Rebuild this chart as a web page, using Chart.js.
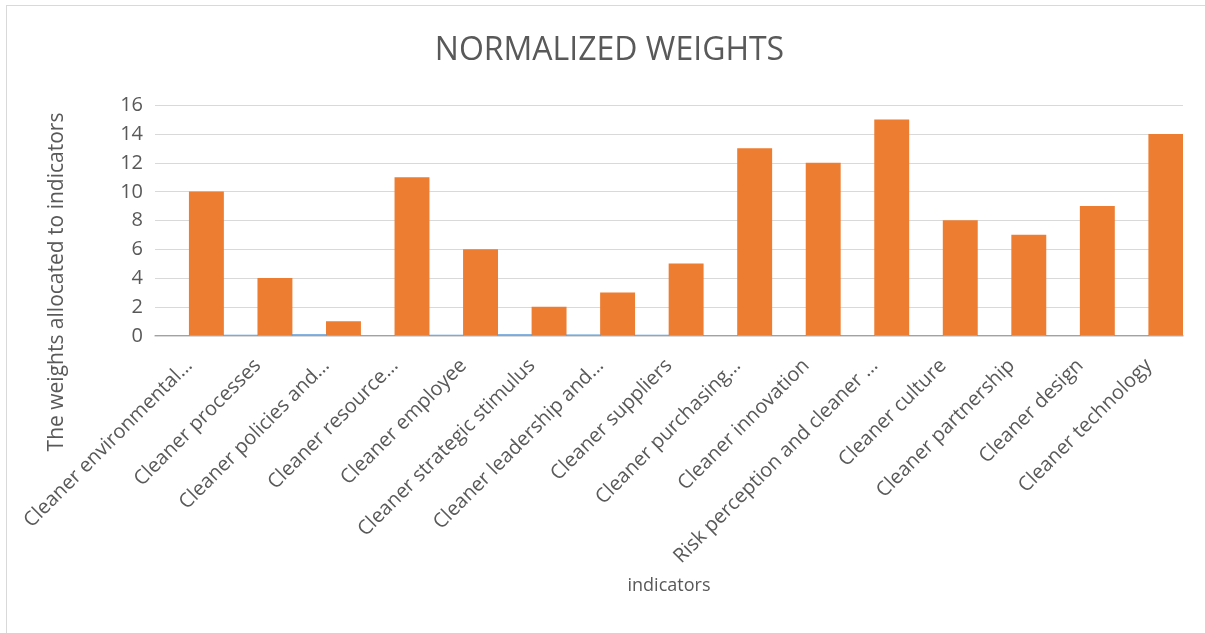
<!DOCTYPE html>
<html>
<head>
<meta charset="utf-8">
<script src="https://cdn.jsdelivr.net/npm/chart.js@4"></script>
<style>
  html, body { margin: 0; padding: 0; background: #fff; }
  #wrap { position: absolute; left: 0; top: 0; width: 1205px; height: 633px; }
  #frame { position: absolute; left: 6px; top: 5px; width: 1210px; height: 640px; border-left: 1px solid #d9d9d9; border-top: 1px solid #d9d9d9; }
  canvas { position: absolute; left: 0; top: 0; }
</style>
</head>
<body>
<div id="wrap">
  <div id="frame"></div>
  <canvas id="c" width="1205" height="633"></canvas>
</div>
<script>
const categories = [
  "Cleaner environmental…",
  "Cleaner processes",
  "Cleaner policies and…",
  "Cleaner resource…",
  "Cleaner employee",
  "Cleaner strategic stimulus",
  "Cleaner leadership and…",
  "Cleaner suppliers",
  "Cleaner purchasing…",
  "Cleaner innovation",
  "Risk perception and cleaner …",
  "Cleaner culture",
  "Cleaner partnership",
  "Cleaner design",
  "Cleaner technology"
];
const normalizedValues = [0.03, 0.07, 0.10, 0.03, 0.06, 0.10, 0.08, 0.06, 0.03, 0.03, 0.02, 0.05, 0.05, 0.05, 0.02];
const weightValues = [10, 4, 1, 11, 6, 2, 3, 5, 13, 12, 15, 8, 7, 9, 14];
const yTicks = [0, 2, 4, 6, 8, 10, 12, 14, 16];

const chartTitle = "NORMALIZED WEIGHTS";
const yTitle = "The weights allocated to indicators";
const xTitle = "indicators";

const FONT = "'Open Sans', 'Liberation Sans', sans-serif";
const TXT = "#595959";

const yTitlePlugin = {
  id: 'yTitle',
  afterDraw(chart) {
    const ctx = chart.ctx;
    ctx.save();
    ctx.translate(57, 282);
    ctx.rotate(-Math.PI / 2);
    ctx.font = "21px " + FONT;
    ctx.fillStyle = TXT;
    ctx.textAlign = "center";
    ctx.textBaseline = "middle";
    ctx.fillText(yTitle, 0, 0);
    ctx.restore();
  }
};

new Chart(document.getElementById('c'), {
  type: 'bar',
  data: {
    labels: categories,
    datasets: [
      { label: 'Normalized', data: normalizedValues, backgroundColor: '#5B9BD5', barPercentage: 1, categoryPercentage: 1 },
      { label: 'Weights', data: weightValues, backgroundColor: '#ED7D31', barPercentage: 1, categoryPercentage: 1 }
    ]
  },
  options: {
    responsive: false,
    animation: false,
    devicePixelRatio: 1,
    layout: { padding: { left: 36, right: 22, top: 0, bottom: 36 } },
    plugins: {
      legend: { display: false },
      tooltip: { enabled: false },
      title: {
        display: true,
        text: chartTitle,
        color: TXT,
        font: { family: FONT, size: 32, weight: 'normal', lineHeight: 1.2 },
        padding: { top: 32, bottom: 35 }
      }
    },
    scales: {
      x: {
        afterFit(axis) { axis.height = 633 - 36 - 336; },
        grid: { display: false, drawTicks: false },
        border: { display: true, color: '#d9d9d9', width: 1.5 },
        ticks: {
          color: TXT,
          font: { family: FONT, size: 20 },
          maxRotation: 45, minRotation: 45,
          autoSkip: false,
          padding: 18
        },
        title: {
          display: true, text: xTitle, color: TXT,
          font: { family: FONT, size: 18 },
          padding: { top: 0, bottom: 0 }
        }
      },
      y: {
        min: 0, max: 16,
        afterBuildTicks(axis) { axis.ticks = yTicks.map(v => ({ value: v })); },
        afterFit(axis) { axis.width = 119; },
        grid: { color: '#d9d9d9', lineWidth: 1, drawTicks: false },
        border: { display: false },
        ticks: {
          color: TXT,
          font: { family: FONT, size: 20 },
          padding: 12
        }
      }
    }
  },
  plugins: [yTitlePlugin]
});
</script>
</body>
</html>
